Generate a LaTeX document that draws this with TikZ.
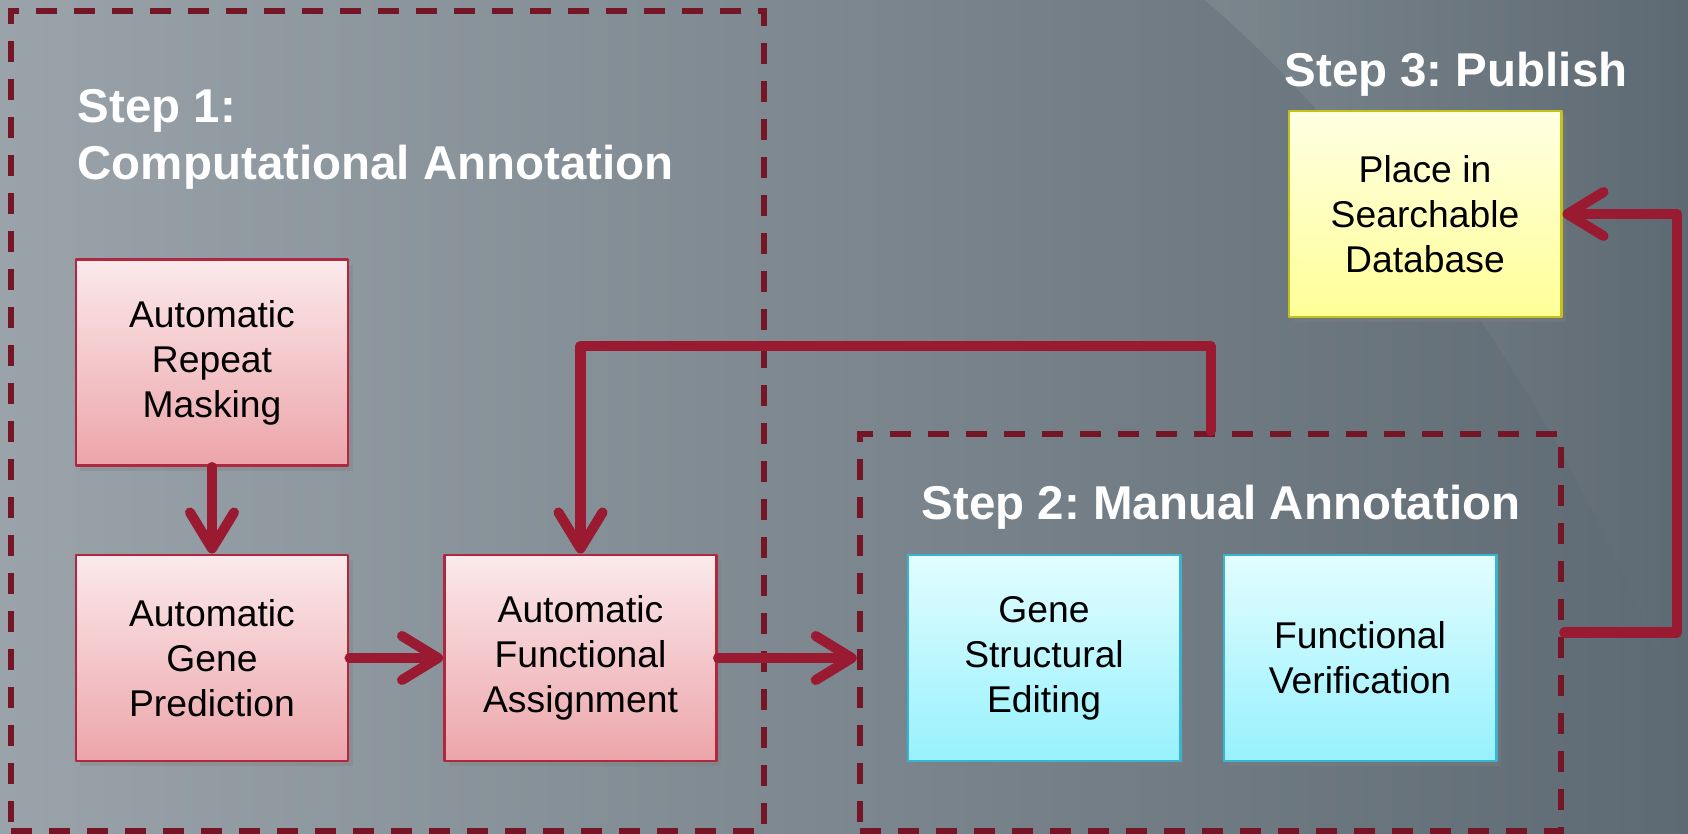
\documentclass[tikz,border=0pt]{standalone}
\usepackage{fontspec}
\setmainfont{Liberation Sans}
\usetikzlibrary{arrows.meta,shadows,fadings}
\frenchspacing

\definecolor{bgleft}{HTML}{9AA3AA}
\definecolor{bgright}{HTML}{5E6A73}
\definecolor{framered}{HTML}{751626}
\definecolor{flowred}{HTML}{9A1A31}
\definecolor{pinktop}{HTML}{FBE9EB}
\definecolor{pinkbot}{HTML}{ECA5AA}
\definecolor{pinkline}{HTML}{B0283F}
\definecolor{cyantop}{HTML}{E2FDFF}
\definecolor{cyanbot}{HTML}{97F1FD}
\definecolor{cyanline}{HTML}{38B4D2}
\definecolor{yellowtop}{HTML}{FFFFE3}
\definecolor{yellowbot}{HTML}{FFFF97}
\definecolor{yellowline}{HTML}{C2C21A}

\begin{document}
\begin{tikzpicture}[line cap=round, line join=round, x=0.01cm, y=-0.01cm,
    box/.style={draw, line width=0.8pt, minimum width=2.72cm, minimum height=2.06cm,
        inner sep=0pt, align=center, font=\fontsize{10.6}{12.8}\selectfont,
        drop shadow={shadow xshift=1.3pt, shadow yshift=-1.5pt, opacity=0.35}},
    pinkbox/.style={box, draw=pinkline, top color=pinktop, bottom color=pinkbot},
    cyanbox/.style={box, draw=cyanline, top color=cyantop, bottom color=cyanbot},
    yellowbox/.style={box, draw=yellowline, top color=yellowtop, bottom color=yellowbot},
    frame/.style={draw=framered, line width=1.7pt, line cap=butt, line join=miter,
        dash pattern=on 0.21cm off 0.17cm, inner sep=0pt},
    title/.style={text=white, inner sep=0pt, font=\fontsize{13.5}{16.8}\selectfont\bfseries},
    flow/.style={draw=flowred, line width=2.85pt,
        -{Straight Barb[length=0.36cm, width=0.44cm, round]}}]

    \useasboundingbox (0,0) rectangle (1688,834);
    \fill[left color=bgleft, right color=bgright] (0,0) rectangle (1688,834);
    \fill[white, fill opacity=0.09, path fading=east]
        (1205,0) .. controls (1380,150) and (1600,450) .. (1688,745) -- (1688,0) -- cycle;

    \node[frame, minimum width=7.53cm, minimum height=8.20cm] (comp) at (387.5,421) {};
    \node[frame, minimum width=7.01cm, minimum height=3.97cm] (manual) at (1210.5,632.5) {};

    \node[title, anchor=base west] (step1) at (77,123) {Step 1:};
    \node[title, anchor=base west] (step1b) at (77,180) {Computational Annotation};
    \node[title, anchor=base] (step2) at (1221,520) {Step 2: Manual Annotation};
    \node[title, anchor=base] (step3) at (1456,87) {Step 3: Publish};

    \node[pinkbox] (repeat) at (212,362.5) {Automatic\\Repeat\\Masking};
    \node[pinkbox] (gene) at (212,658) {Automatic\\Gene\\Prediction};
    \node[pinkbox] (assign) at (580.5,658) {Automatic\\Functional\\Assignment};
    \node[cyanbox] (editing) at (1044,658) {Gene\\Structural\\Editing};
    \node[cyanbox] (verify) at (1360,658) {Functional\\Verification};
    \node[yellowbox] (place) at (1425,214) {Place in\\Searchable\\Database};

    \coordinate (topbend) at (580.5,346);
    \coordinate (rightbend) at (1677,214);

    \draw[flow] (repeat) -- (gene);
    \draw[flow] (gene) -- (assign);
    \draw[flow] (assign.east) -- (assign.east -| manual.west);
    \draw[flow] (manual.north) |- (topbend) -- (assign.north);
    \draw[flow] (manual.east) -| (rightbend) -- (place.east);

\end{tikzpicture}
\end{document}
